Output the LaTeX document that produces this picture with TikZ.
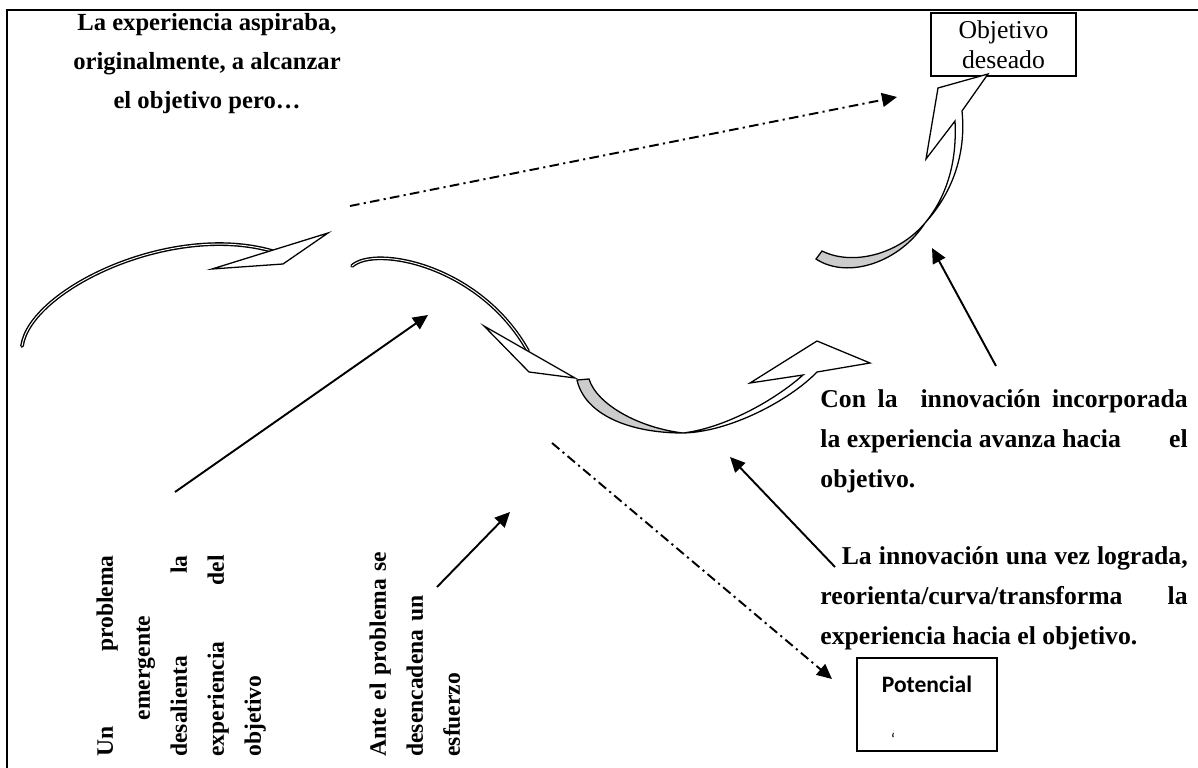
\documentclass[tikz,border=0pt]{standalone}
\usepackage{fontspec}
\setmainfont{Liberation Serif}
\newfontfamily\calibri{Carlito}
\usepackage{tikz}
\usetikzlibrary{arrows.meta}
\tikzset{every node/.append style={font=\fontsize{12}{18.8}\selectfont\bfseries, inner sep=0pt}}
\newcommand{\fillsp}{\hskip 0pt plus 1fill\relax}

\begin{document}
\begin{tikzpicture}[x=0.467pt, y=-0.467pt, >={Stealth[length=7pt,width=6.5pt,inset=0pt]},
    ribbon/.style={double, double distance=0.45pt, line width=0.65pt, line cap=round},
    head/.style={draw, fill=white, line width=0.6pt},
    conn/.style={->, line width=0.9pt},
    dashdot/.style={->, line width=0.9pt, dash pattern=on 4.5pt off 2pt on 1pt off 2pt},
    box/.style={draw, line width=0.8pt},
    vtext/.style={rotate=90, anchor=north west, align=left,
        font=\fontsize{11}{17.3}\selectfont\bfseries}]
    \useasboundingbox (0,0) rectangle (1198,768);
    \draw[line width=0.9pt] (7,768) -- (7,10) -- (1198,10);

    % textos
    \node[align=center, font=\fontsize{11.5}{18.2}\selectfont\bfseries] (aspira) at (207,64)
        {La experiencia aspiraba,\\originalmente, a alcanzar\\el objetivo pero…};
    \node[box, font=\fontsize{12}{14}\selectfont, align=center, minimum width=67.8pt, minimum height=29.4pt] (meta) at (1003.5,44.5) {Objetivo\\deseado};
    \node[anchor=north west, text width=171.5pt, align=justify] (avanza) at (820,389)
        {Con la~ innovación incorporada\linebreak la experiencia avanza hacia\hfill el\linebreak objetivo.};
    \node[anchor=north west, text width=171.5pt, align=justify] (reorienta) at (820,546)
        {\hspace*{10pt}La innovación una vez lograda,\linebreak reorienta/curva/transforma\hfill la\linebreak experiencia hacia el objetivo.};
    \node[vtext, text width=94pt] (problema) at (96,757) {Un\fillsp problema\\\hspace*{17pt}emergente\\desalienta\fillsp la\\experiencia\fillsp del\\objetivo};
    \node[vtext, text width=104pt] (esfuerzo) at (369,757) {Ante el problema se\\desencadena un\\esfuerzo};
    \node[box, minimum width=65.4pt, minimum height=43.5pt] (potencial) at (927,704.5) {};
    \node[font=\calibri\fontsize{11}{13}\selectfont\bfseries, anchor=base] (potlabel) at (927,692) {Potencial};
    \node[font=\calibri\fontsize{8}{8}\selectfont] (potmark) at (893,739) {‘};

    % flechas curvas
    \draw[ribbon] (22,346) .. controls (30,290) and (170,222) .. (272,251);
    \draw[head] (212,269) -- (328,233) -- (283,264) -- cycle;
    \draw[ribbon] (352,266) .. controls (375,245) and (480,265) .. (528,351);
    \draw[head] (484,326) -- (575,378) -- (529,372) -- cycle;
    \filldraw[fill=gray!40, line width=0.6pt] (577,380) .. controls (585,415) and (630,433) .. (683,433)
        .. controls (640,428) and (597,405) .. (589,379) -- cycle;
    \filldraw[fill=white, line width=0.6pt] (683,433) .. controls (730,432) and (790,400) .. (817,372)
        -- (870,363) -- (817,341) -- (750,383) -- (803,375) .. controls (775,400) and (725,428) .. (683,433);
    \filldraw[fill=gray!40, line width=0.6pt] (816,259) .. controls (848,280) and (900,262) .. (925,223)
        .. controls (898,255) and (852,266) .. (822,251) -- cycle;
    \filldraw[fill=white, line width=0.6pt] (925,223) .. controls (955,190) and (966,150) .. (962,111)
        -- (988,74) -- (938,88) -- (926,159) -- (955,121) .. controls (957,160) and (948,195) .. (925,223);

    % flechas rectas
    \coordinate (aTail) at (175,492); \coordinate (aTip) at (428,315);
    \coordinate (bTail) at (437,587); \coordinate (bTip) at (510,512);
    \coordinate (cTail) at (835,567); \coordinate (cTip) at (730,457);
    \coordinate (dTail) at (996,366); \coordinate (dTip) at (932,248);
    \foreach \s/\t in {aTail/aTip, bTail/bTip, cTail/cTip, dTail/dTip}
        \draw[conn] (\s) -- (\t);
    \coordinate (planA) at (350,206); \coordinate (planB) at (897,97);
    \coordinate (pathA) at (552,443); \coordinate (pathB) at (832,679);
    \draw[dashdot] (planA) -- (planB);
    \draw[dashdot] (pathA) -- (pathB);
\end{tikzpicture}
\end{document}
